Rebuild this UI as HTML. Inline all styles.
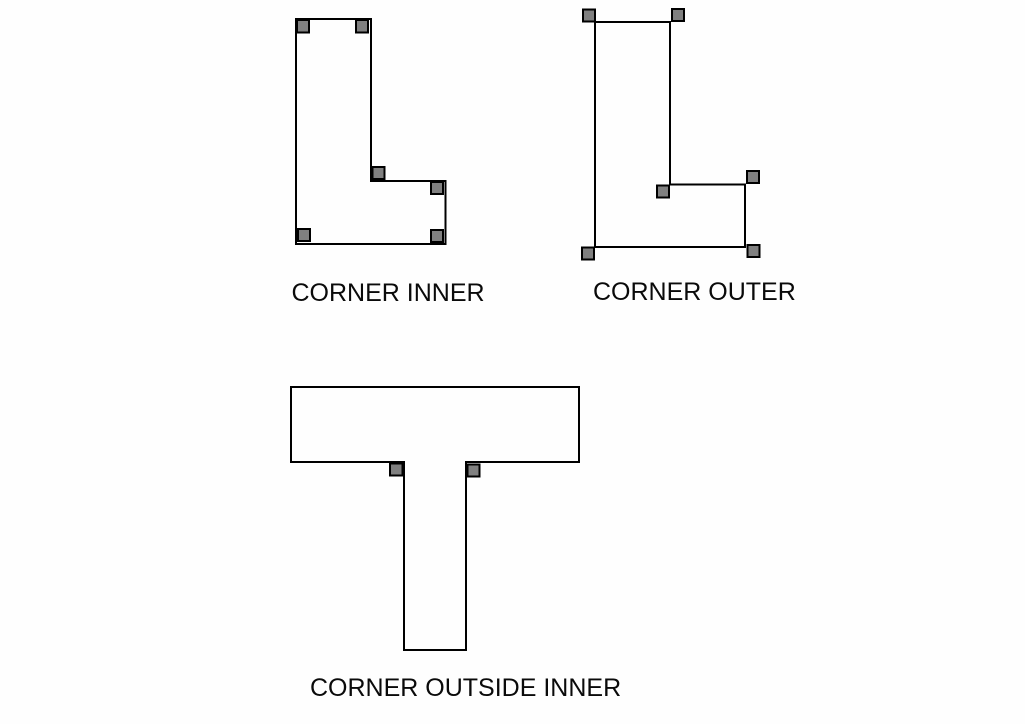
<!DOCTYPE html>
<html>
<head>
<meta charset="utf-8">
<style>
html,body{margin:0;padding:0;background:#fefefe;}
svg{display:block;}
text{font-family:"Liberation Sans",sans-serif;font-size:25px;fill:#0a0a0a;}
.s{fill:none;stroke:#000;stroke-width:2;}
.h{fill:#808080;stroke:#000;stroke-width:2;}
</style>
</head>
<body>
<svg width="1025" height="724" viewBox="0 0 1025 724" xmlns="http://www.w3.org/2000/svg">
<path class="s" d="M296 19H371V181H445.500V244H296Z"/>
<rect class="h" x="297" y="20" width="12" height="12.500"/>
<rect class="h" x="356" y="20" width="12" height="12.500"/>
<rect class="h" x="372.500" y="167" width="12" height="12"/>
<rect class="h" x="431" y="182" width="12" height="12"/>
<rect class="h" x="298" y="229" width="12" height="12"/>
<rect class="h" x="431" y="230" width="12" height="12"/>
<text x="291.500" y="301">CORNER INNER</text>

<path class="s" d="M595 22H670V184.500H745V247H595Z"/>
<rect class="h" x="583" y="9.500" width="12" height="12"/>
<rect class="h" x="672" y="9" width="12" height="12"/>
<rect class="h" x="657" y="185.500" width="12" height="12"/>
<rect class="h" x="747" y="171" width="12" height="12"/>
<rect class="h" x="582" y="247.500" width="12" height="12"/>
<rect class="h" x="747.500" y="245" width="12" height="12"/>
<text x="593" y="300">CORNER OUTER</text>

<path class="s" d="M291 387H579V462H466V650H404V462H291Z"/>
<rect class="h" x="390" y="463.500" width="12.500" height="12"/>
<rect class="h" x="467.500" y="464.500" width="12" height="12"/>
<text x="310" y="696">CORNER OUTSIDE INNER</text>
</svg>
</body>
</html>
